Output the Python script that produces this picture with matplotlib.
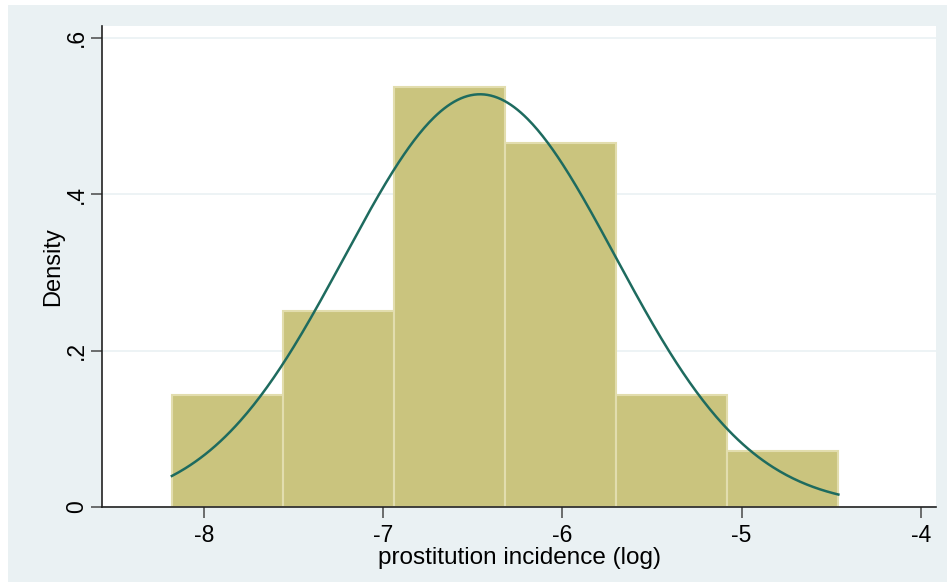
import numpy as np
import matplotlib.pyplot as plt
from matplotlib.patches import Rectangle

# histogram of log prostitution incidence (density scale), 6 bins
BIN_EDGES = [-8.18, -7.56, -6.94, -6.32, -5.70, -5.08, -4.46]
DENSITY = [0.1434, 0.2509, 0.5376, 0.4659, 0.1434, 0.0717]

# normal overlay parameters
MEAN = -6.46
SD = 0.756

X_TICKS = [-8, -7, -6, -5, -4]
Y_TICKS = [0, 0.2, 0.4, 0.6]
Y_TICKLABELS = ["0", ".2", ".4", ".6"]

BG = "#eaf1f3"
BAR = "#cac47e"
BAR_EDGE = "#e2ddae"
CURVE = "#1e6b5f"

plt.rcParams["font.family"] = ["Liberation Sans", "DejaVu Sans"]

fig = plt.figure(figsize=(9.47, 5.83), dpi=100, facecolor="white")
fig.patches.append(Rectangle((8 / 947, 1 / 583), 939 / 947, 577 / 583,
                             transform=fig.transFigure, facecolor=BG,
                             edgecolor="none", zorder=-10))
ax = fig.add_axes([102 / 947, 1 - 507 / 583, 834 / 947, 481 / 583])
ax.set_facecolor("white")

widths = np.diff(BIN_EDGES)
ax.bar(BIN_EDGES[:-1], DENSITY, width=widths, align="edge", color=BAR,
       edgecolor=BAR_EDGE, linewidth=1.5, zorder=2)

xs = np.linspace(BIN_EDGES[0], BIN_EDGES[-1], 400)
pdf = np.exp(-0.5 * ((xs - MEAN) / SD) ** 2) / (SD * np.sqrt(2 * np.pi))
ax.plot(xs, pdf, color=CURVE, linewidth=1.8, zorder=3)

ax.set_xlim(-8.57, -3.915)
ax.set_ylim(0, 0.615)
ax.set_xticks(X_TICKS)
ax.set_xticklabels([str(t) for t in X_TICKS])
ax.set_yticks(Y_TICKS)
ax.set_yticklabels(Y_TICKLABELS, rotation=90, va="center")
ax.yaxis.grid(True, color=BG, linewidth=1.2, zorder=1)
ax.set_axisbelow(True)

for side in ["top", "right"]:
    ax.spines[side].set_visible(False)
for side in ["left", "bottom"]:
    ax.spines[side].set_color("#222222")
    ax.spines[side].set_linewidth(1.2)

ax.tick_params(axis="both", labelsize=16.5, length=8, width=1.2,
               color="#555555", direction="out")
ax.tick_params(axis="x", pad=4)
ax.tick_params(axis="y", pad=2)

ax.set_xlabel("prostitution incidence (log)", fontsize=17.5, labelpad=0)
ax.set_ylabel("Density", fontsize=17, labelpad=1)

fig.savefig("out.png", dpi=100, facecolor=fig.get_facecolor())
